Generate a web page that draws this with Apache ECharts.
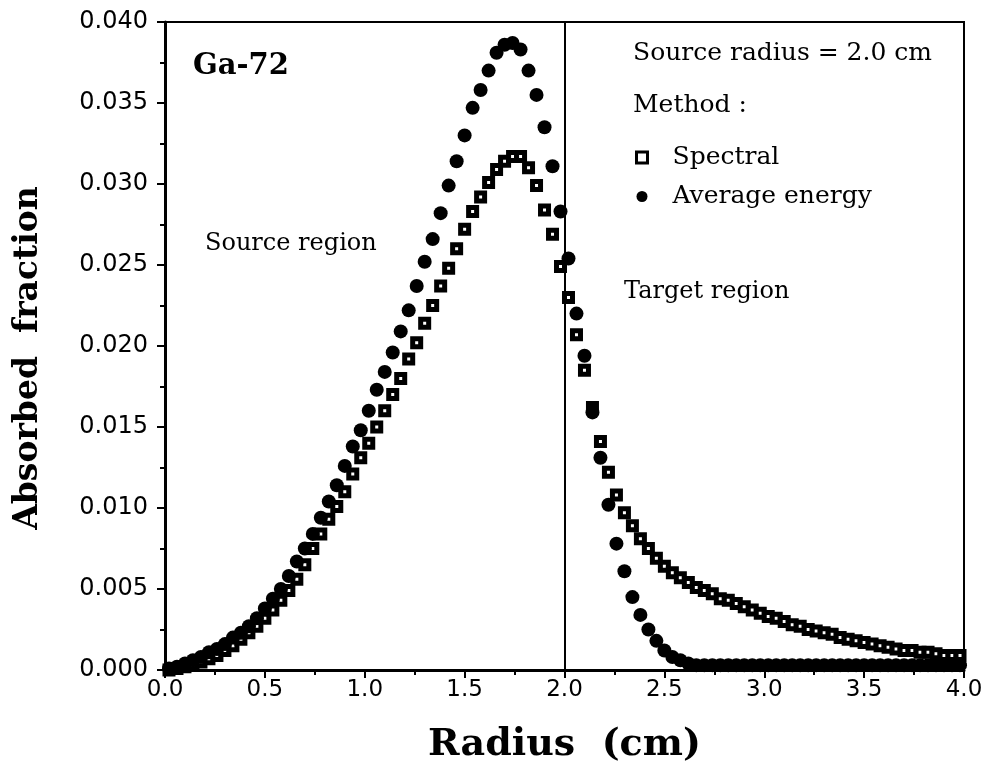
<!DOCTYPE html>
<html>
<head>
<meta charset="utf-8">
<script src="https://cdn.jsdelivr.net/npm/echarts@6/dist/echarts.min.js"></script>
<style>
  html, body { margin: 0; padding: 0; background: #fff; }
  #main { width: 987px; height: 777px; }
</style>
</head>
<body>
<div id="main"></div>
<script>
// radius (cm) of each sample
const radius = [
  0.02, 0.06, 0.10, 0.14, 0.18, 0.22, 0.26, 0.30, 0.34, 0.38,
  0.42, 0.46, 0.50, 0.54, 0.58, 0.62, 0.66, 0.70, 0.74, 0.78,
  0.82, 0.86, 0.90, 0.94, 0.98, 1.02, 1.06, 1.10, 1.14, 1.18,
  1.22, 1.26, 1.30, 1.34, 1.38, 1.42, 1.46, 1.50, 1.54, 1.58,
  1.62, 1.66, 1.70, 1.74, 1.78, 1.82, 1.86, 1.90, 1.94, 1.98,
  2.02, 2.06, 2.10, 2.14, 2.18, 2.22, 2.26, 2.30, 2.34, 2.38,
  2.42, 2.46, 2.50, 2.54, 2.58, 2.62, 2.66, 2.70, 2.74, 2.78,
  2.82, 2.86, 2.90, 2.94, 2.98, 3.02, 3.06, 3.10, 3.14, 3.18,
  3.22, 3.26, 3.30, 3.34, 3.38, 3.42, 3.46, 3.50, 3.54, 3.58,
  3.62, 3.66, 3.70, 3.74, 3.78, 3.82, 3.86, 3.90, 3.94, 3.98
];

// Spectral method
const spectral = [
  0.0000, 0.0001, 0.0002, 0.0003, 0.0005, 0.0007, 0.0009, 0.0012, 0.0015, 0.0019,
  0.0023, 0.0027, 0.0032, 0.0037, 0.0043, 0.0049, 0.0056, 0.0065, 0.0075, 0.0084,
  0.0093, 0.0101, 0.0110, 0.0121, 0.0131, 0.0140, 0.0150, 0.0160, 0.0170, 0.0180,
  0.0192, 0.0202, 0.0214, 0.0225, 0.0237, 0.0248, 0.0260, 0.0272, 0.0283, 0.0292,
  0.0301, 0.0309, 0.0314, 0.0317, 0.0317, 0.0310, 0.0299, 0.0284, 0.0269, 0.0249,
  0.0230, 0.0207, 0.0185, 0.0162, 0.0141, 0.0122, 0.0108, 0.0097, 0.0089, 0.0081,
  0.0075, 0.0069, 0.0064, 0.0060, 0.0057, 0.0054, 0.0051, 0.0049, 0.0047, 0.0044,
  0.0043, 0.0041, 0.0039, 0.0037, 0.0035, 0.0033, 0.0032, 0.0030, 0.0028, 0.0027,
  0.0025, 0.0024, 0.0023, 0.0022, 0.0020, 0.0019, 0.0018, 0.0017, 0.0016, 0.0015,
  0.0014, 0.0013, 0.0012, 0.0012, 0.0011, 0.0011, 0.0010, 0.0009, 0.0009, 0.0009
];

// Average energy method
const averageEnergy = [
  0.0001, 0.0002, 0.0004, 0.0006, 0.0008, 0.0011, 0.0013, 0.0016, 0.0020, 0.0023,
  0.0027, 0.0032, 0.0038, 0.0044, 0.0050, 0.0058, 0.0067, 0.0075, 0.0084, 0.0094,
  0.0104, 0.0114, 0.0126, 0.0138, 0.0148, 0.0160, 0.0173, 0.0184, 0.0196, 0.0209,
  0.0222, 0.0237, 0.0252, 0.0266, 0.0282, 0.0299, 0.0314, 0.0330, 0.0347, 0.0358,
  0.0370, 0.0381, 0.0386, 0.0387, 0.0383, 0.0370, 0.0355, 0.0335, 0.0311, 0.0283,
  0.0254, 0.0220, 0.0194, 0.0159, 0.0131, 0.0102, 0.0078, 0.0061, 0.0045, 0.0034,
  0.0025, 0.0018, 0.0012, 0.0008, 0.0006, 0.0004, 0.0003, 0.0003, 0.0003, 0.0003,
  0.0003, 0.0003, 0.0003, 0.0003, 0.0003, 0.0003, 0.0003, 0.0003, 0.0003, 0.0003,
  0.0003, 0.0003, 0.0003, 0.0003, 0.0003, 0.0003, 0.0003, 0.0003, 0.0003, 0.0003,
  0.0003, 0.0003, 0.0003, 0.0003, 0.0003, 0.0003, 0.0003, 0.0003, 0.0003, 0.0003
];

const sourceRadius = 2.0;

const chart = echarts.init(document.getElementById("main"), null, { renderer: "canvas" });

const serif = "DejaVu Serif";
const sans = "DejaVu Sans";

const option = {
  backgroundColor: "#fff",
  animation: false,
  grid: {
    left: 165,
    top: 22,
    right: 23,
    bottom: 107,
    show: true,
    borderColor: "#000",
    borderWidth: 2,
    backgroundColor: "transparent",
  },
  xAxis: {
    type: "value",
    min: 0,
    max: 4,
    interval: 0.5,
    name: "Radius  (cm)",
    nameLocation: "middle",
    nameGap: 56,
    nameTextStyle: { fontFamily: serif, fontWeight: "bold", fontSize: 38, color: "#000" },
    axisLine: { show: true, lineStyle: { color: "#000", width: 3 } },
    axisTick: { show: true, length: 8, lineStyle: { color: "#000", width: 2 } },
    minorTick: { show: true, splitNumber: 2, length: 5, lineStyle: { color: "#000", width: 2 } },
    axisLabel: {
      color: "#000",
      fontFamily: sans,
      fontSize: 23,
      margin: 9,
      formatter: (v) => v.toFixed(1),
    },
    splitLine: { show: false },
  },
  yAxis: {
    type: "value",
    min: 0,
    max: 0.04,
    interval: 0.005,
    name: "Absorbed  fraction",
    nameLocation: "middle",
    nameGap: 120,
    nameTextStyle: { fontFamily: serif, fontWeight: "bold", fontSize: 33, color: "#000", padding: [0, 24, 0, 0] },
    axisLine: { show: true, lineStyle: { color: "#000", width: 3 } },
    axisTick: { show: true, length: 8, lineStyle: { color: "#000", width: 2 } },
    minorTick: { show: true, splitNumber: 2, length: 5, lineStyle: { color: "#000", width: 2 } },
    axisLabel: {
      color: "#000",
      fontFamily: sans,
      fontSize: 24,
      margin: 17,
      formatter: (v) => v.toFixed(3),
    },
    splitLine: { show: false },
  },
  legend: {
    orient: "vertical",
    left: 635,
    top: 145,
    padding: 0,
    itemGap: 14,
    itemWidth: 11,
    itemHeight: 11,
    textStyle: { fontFamily: serif, fontSize: 25, color: "#000", padding: [0, 0, 0, 20] },
    data: [
      { name: "Spectral", icon: "rect", itemStyle: { color: "#fff", borderColor: "#000", borderWidth: 3 } },
      { name: "Average energy", icon: "circle", itemStyle: { color: "#000", borderWidth: 0 } },
    ],
  },
  series: [
    {
      name: "Spectral",
      type: "scatter",
      symbol: "rect",
      symbolSize: 8,
      itemStyle: { color: "#fff", borderColor: "#000", borderWidth: 5, opacity: 1 },
      data: radius.map((r, i) => [r, spectral[i]]),
      markLine: {
        silent: true,
        symbol: "none",
        label: { show: false },
        lineStyle: { color: "#000", width: 2, type: "solid" },
        data: [{ xAxis: sourceRadius }],
      },
      z: 2,
    },
    {
      name: "Average energy",
      type: "scatter",
      symbol: "circle",
      symbolSize: 14,
      itemStyle: { color: "#000", opacity: 1 },
      data: radius.map((r, i) => [r, averageEnergy[i]]),
      z: 3,
    },
  ],
  graphic: [
    {
      type: "text", left: 193, top: 52,
      style: { text: "Ga-72", fontFamily: serif, fontWeight: "bold", fontSize: 29, fill: "#000" },
    },
    {
      type: "text", left: 633, top: 41,
      style: { text: "Source radius = 2.0 cm", fontFamily: serif, fontSize: 25, fill: "#000" },
    },
    {
      type: "text", left: 633, top: 93,
      style: { text: "Method :", fontFamily: serif, fontSize: 25, fill: "#000" },
    },
    {
      type: "text", left: 205, top: 232,
      style: { text: "Source region", fontFamily: serif, fontSize: 24, fill: "#000" },
    },
    {
      type: "text", left: 624, top: 280,
      style: { text: "Target region", fontFamily: serif, fontSize: 24, fill: "#000" },
    },
  ],
};

chart.setOption(option);
</script>
</body>
</html>
